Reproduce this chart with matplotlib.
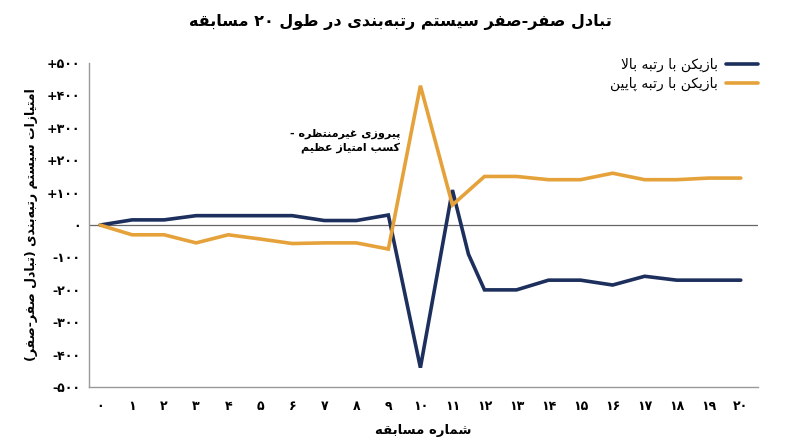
"""Zero-sum rating exchange over 20 matches (Persian labels).

matplotlib has no Arabic-script shaping or bidi, so a small helper below maps
letters to their presentation forms and reverses each line for display.
"""

import matplotlib
matplotlib.use("Agg")
import matplotlib.pyplot as plt  # noqa: E402

plt.rcParams["font.family"] = ["DejaVu Sans"]

# --- data -------------------------------------------------------------------
matches = list(range(21))
high_x = list(range(12)) + [11.5] + list(range(12, 21))
high_scores = [0, 16, 16, 29, 29, 29, 29, 14, 14, 31, -440, 108,
               -90,
               -200, -200, -170, -170, -185, -158, -170, -170, -170]
low_scores = [0, -30, -30, -55, -30, -43, -57, -55, -55, -74, 430, 62,
              150, 150, 140, 140, 160, 140, 140, 145, 145]
y_ticks = list(range(-500, 501, 100))

TITLE = "تبادل صفر-صفر سیستم رتبه\u200cبندی در طول ۲۰ مسابقه"
LABEL_HIGH = "بازیکن با رتبه بالا"
LABEL_LOW = "بازیکن با رتبه پایین"
NOTE = ["پیروزی غیرمنتظره -", "کسب امتیاز عظیم"]
Y_LABEL = "امتیازات سیستم رتبه\u200cبندی (تبادل صفر-صفر)"
X_LABEL = "شماره مسابقه"

NAVY = "#1d2f5c"
GOLD = "#e6a23a"

# --- minimal Persian shaping ---------------------------------------------------
# letter: (isolated, final, initial, medial); None = does not join to the left
FORMS = {
    "ا": ("\uFE8D", "\uFE8E", None, None),
    "ب": ("\uFE8F", "\uFE90", "\uFE91", "\uFE92"),
    "پ": ("\uFB56", "\uFB57", "\uFB58", "\uFB59"),
    "ت": ("\uFE95", "\uFE96", "\uFE97", "\uFE98"),
    "د": ("\uFEA9", "\uFEAA", None, None),
    "ر": ("\uFEAD", "\uFEAE", None, None),
    "ز": ("\uFEAF", "\uFEB0", None, None),
    "س": ("\uFEB1", "\uFEB2", "\uFEB3", "\uFEB4"),
    "ش": ("\uFEB5", "\uFEB6", "\uFEB7", "\uFEB8"),
    "ص": ("\uFEB9", "\uFEBA", "\uFEBB", "\uFEBC"),
    "ط": ("\uFEC1", "\uFEC2", "\uFEC3", "\uFEC4"),
    "ظ": ("\uFEC5", "\uFEC6", "\uFEC7", "\uFEC8"),
    "ع": ("\uFEC9", "\uFECA", "\uFECB", "\uFECC"),
    "غ": ("\uFECD", "\uFECE", "\uFECF", "\uFED0"),
    "ف": ("\uFED1", "\uFED2", "\uFED3", "\uFED4"),
    "ق": ("\uFED5", "\uFED6", "\uFED7", "\uFED8"),
    "ک": ("\uFB8E", "\uFB8F", "\uFB90", "\uFB91"),
    "ل": ("\uFEDD", "\uFEDE", "\uFEDF", "\uFEE0"),
    "م": ("\uFEE1", "\uFEE2", "\uFEE3", "\uFEE4"),
    "ن": ("\uFEE5", "\uFEE6", "\uFEE7", "\uFEE8"),
    "ه": ("\uFEE9", "\uFEEA", "\uFEEB", "\uFEEC"),
    "و": ("\uFEED", "\uFEEE", None, None),
    "ی": ("\uFBFC", "\uFBFD", "\uFBFE", "\uFBFF"),
}
DIGITS = "۰۱۲۳۴۵۶۷۸۹0123456789"
MIRROR = {"(": ")", ")": "("}


def _joins_left(c):
    return c in FORMS and FORMS[c][2] is not None


def fa(text):
    """Shape a logical-order Persian line and return it in visual order."""
    s, n, out, i = text, len(text), [], 0
    while i < n:
        c = s[i]
        if c == "\u200c":
            i += 1
            continue
        if c not in FORMS:
            out.append(c)
            i += 1
            continue
        jp = i > 0 and _joins_left(s[i - 1])
        if c == "ل" and i + 1 < n and s[i + 1] == "ا":
            out.append("\uFEFC" if jp else "\uFEFB")
            i += 2
            continue
        jn = _joins_left(c) and i + 1 < n and s[i + 1] in FORMS
        iso, fin, ini, med = FORMS[c]
        out.append(med if jp and jn else fin if jp else ini if jn else iso)
        i += 1
    tokens = []
    for ch in out:
        if ch in DIGITS and tokens and tokens[-1][-1] in DIGITS:
            tokens[-1] += ch
        else:
            tokens.append(ch)
    return "".join(MIRROR.get(t, t) for t in reversed(tokens))


def fa_num(v, signed=True):
    digits = str(abs(v)).translate(str.maketrans("0123456789", "۰۱۲۳۴۵۶۷۸۹"))
    if not signed:
        return digits
    return ("+" if v > 0 else "-" if v < 0 else "") + digits


# --- figure -----------------------------------------------------------------
fig = plt.figure(figsize=(8, 4.47), dpi=100)
ax = fig.add_axes([0.111, 0.134, 0.837, 0.725])

ax.plot(high_x, high_scores, color=NAVY, lw=2.6, solid_joinstyle="miter",
        solid_capstyle="round", label=fa(LABEL_HIGH), zorder=3)
ax.plot(matches, low_scores, color=GOLD, lw=2.6, solid_joinstyle="miter",
        solid_capstyle="round", label=fa(LABEL_LOW), zorder=3)
ax.axhline(0, color="#666666", lw=0.9, zorder=1)

ax.set_xlim(-0.35, 20.55)
ax.set_ylim(-500, 500)
ax.set_xticks(matches)
ax.set_xticklabels([fa_num(m, signed=False) for m in matches], fontsize=9,
                   fontweight="bold")
ax.set_yticks(y_ticks)
ax.set_yticklabels([fa_num(v) for v in y_ticks], fontsize=9,
                   fontweight="bold")
ax.tick_params(length=0)
ax.tick_params(axis="x", pad=9)
ax.tick_params(axis="y", pad=6)

for side in ("top", "right"):
    ax.spines[side].set_visible(False)
for side in ("left", "bottom"):
    ax.spines[side].set_color("#999999")
    ax.spines[side].set_linewidth(1.0)

ax.set_xlabel(fa(X_LABEL), fontsize=9.5, fontweight="bold", labelpad=8)
fig.text(0.04, 1 - 225 / 447, fa(Y_LABEL), rotation=90, ha="center",
         va="center", fontsize=9, fontweight="bold")
fig.text(0.5, 1 - 22 / 447, fa(TITLE), ha="center", va="center",
         fontsize=11.5, fontweight="bold")

ax.text(9.36, 262, "\n".join(fa(line) for line in NOTE), ha="right",
        va="center", multialignment="right", fontsize=8, fontweight="bold",
        linespacing=1.4)

ax.legend(loc="upper right", bbox_to_anchor=(758 / 800, 1 - 58 / 447),
          bbox_transform=fig.transFigure, markerfirst=False, frameon=False,
          fontsize=10, handlelength=2.3, handletextpad=0.6, labelspacing=0.35,
          borderaxespad=0, borderpad=0)

fig.savefig("out.png", dpi=100)
